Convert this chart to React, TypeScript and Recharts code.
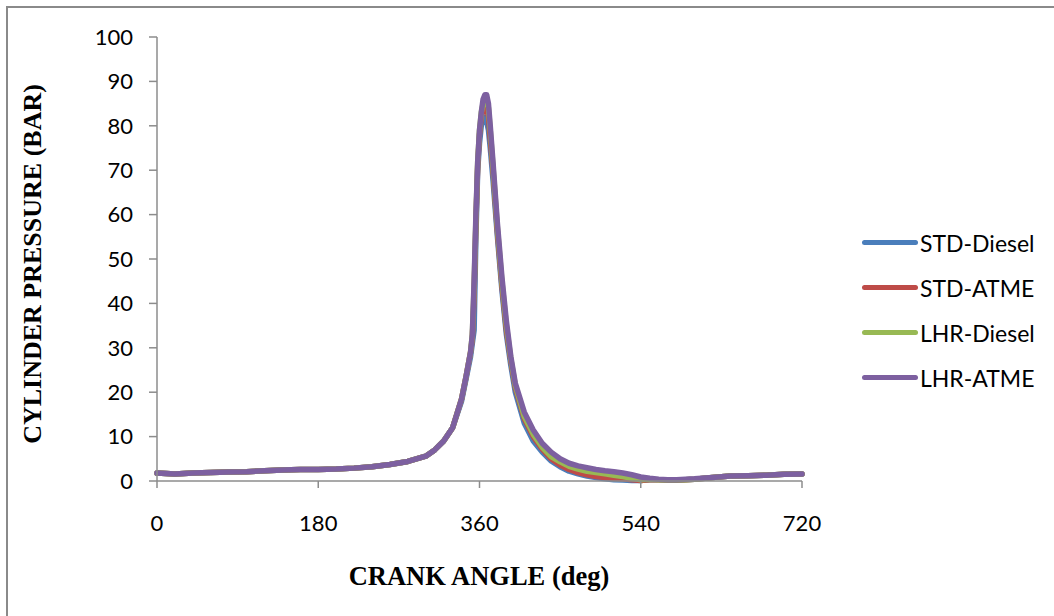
import React from "react";
import { LineChart, Line, XAxis, YAxis } from "recharts";

const angles = [0, 20, 40, 60, 80, 100, 120, 140, 160, 180, 200, 220, 240, 260, 280, 300, 310, 320, 330, 340, 345, 350, 352, 354, 356, 358, 360, 362, 364, 366, 368, 370, 372, 375, 380, 385, 390, 395, 400, 410, 420, 430, 440, 450, 460, 470, 480, 490, 500, 510, 520, 530, 540, 550, 560, 570, 580, 590, 600, 620, 640, 660, 680, 700, 720];

const stdDiesel = [1.8, 1.6, 1.8, 1.9, 2.0, 2.1, 2.3, 2.5, 2.6, 2.6, 2.7, 2.9, 3.2, 3.7, 4.4, 5.6, 7.0, 9.0, 12.0, 18.0, 23.0, 28, 31, 34, 55, 70, 76, 80, 82, 82, 81, 79, 75, 68, 55, 43, 33, 26, 20, 13, 9, 6.5, 4.5, 3.2, 2.2, 1.6, 1.1, 0.8, 0.5, 0.3, 0.2, 0.1, 0.1, 0.3, 0.3, 0.2, 0.2, 0.3, 0.4, 0.8, 1.1, 1.2, 1.3, 1.5, 1.6];
const stdAtme = [1.8, 1.6, 1.8, 1.9, 2.0, 2.1, 2.3, 2.5, 2.6, 2.6, 2.7, 2.9, 3.2, 3.7, 4.4, 5.6, 7.0, 9.0, 12.0, 18.5, 23.5, 29, 32, 42, 58, 71, 78, 82, 84, 85, 84, 82, 77, 70, 56, 44, 34, 27, 21, 14, 10, 7.2, 5.0, 3.6, 2.6, 1.9, 1.4, 1.0, 0.8, 0.6, 0.5, 0.3, 0.1, 0.3, 0.3, 0.2, 0.2, 0.3, 0.4, 0.8, 1.1, 1.2, 1.3, 1.5, 1.6];
const lhrDiesel = [1.8, 1.6, 1.8, 1.9, 2.0, 2.1, 2.3, 2.5, 2.6, 2.6, 2.7, 2.9, 3.2, 3.7, 4.4, 5.6, 7.0, 9.0, 12.0, 18.5, 23.5, 29, 33, 44, 59, 72, 79, 83, 85, 86, 86, 84, 79, 71, 57, 45, 35, 27.5, 21.5, 14.5, 10.5, 7.6, 5.5, 4.3, 3.3, 2.7, 2.2, 1.9, 1.6, 1.3, 1.0, 0.6, 0.3, 0.4, 0.3, 0.2, 0.2, 0.3, 0.4, 0.8, 1.1, 1.2, 1.3, 1.5, 1.6];
const lhrAtme = [1.8, 1.6, 1.8, 1.9, 2.0, 2.1, 2.3, 2.5, 2.6, 2.6, 2.7, 2.9, 3.2, 3.7, 4.4, 5.6, 7.0, 9.0, 12.0, 18.5, 23.5, 29, 33, 45, 60, 72, 79, 83, 86, 87, 87, 85, 80, 72, 58, 46, 36, 28, 22, 15.5, 11.5, 8.5, 6.5, 5.0, 4.0, 3.4, 3.0, 2.6, 2.3, 2.1, 1.8, 1.4, 0.9, 0.6, 0.4, 0.3, 0.3, 0.4, 0.5, 0.8, 1.1, 1.2, 1.3, 1.5, 1.6];

const seriesNames = ["STD-Diesel", "STD-ATME", "LHR-Diesel", "LHR-ATME"];
const seriesColors = ["#4A7EBB", "#BE4B48", "#98B954", "#7D60A0"];
const xTicks = [0, 180, 360, 540, 720];
const yTicks = [0, 10, 20, 30, 40, 50, 60, 70, 80, 90, 100];

const seriesValues = [stdDiesel, stdAtme, lhrDiesel, lhrAtme];
const data = angles.map((a, i) => {
  const row: Record<string, number> = { angle: a };
  seriesNames.forEach((n, k) => {
    row[n] = seriesValues[k][i];
  });
  return row;
});

const tickFont = { fontFamily: "Lato", fontSize: 22, fill: "#000" };
const axisColor = "#8c8c8c";

export default function App() {
  return (
    <div style={{ position: "absolute", left: 0, top: 0, width: 1054, height: 616, overflow: "hidden", background: "#fff" }}>
      <div style={{ position: "absolute", left: 6, top: 6, width: 1200, height: 800, border: "2px solid #8a8a8a" }} />
      <div style={{ position: "absolute", left: 0, top: 0 }}>
        <LineChart width={1054} height={616} data={data} margin={{ top: 37, left: 97, right: 252, bottom: 105 }}>
          <XAxis
            dataKey="angle"
            type="number"
            domain={[0, 720]}
            ticks={xTicks}
            tick={tickFont}
            tickSize={7}
            tickMargin={27}
            height={30}
            stroke={axisColor}
            strokeWidth={1.5}
          />
          <YAxis
            type="number"
            domain={[0, 100]}
            ticks={yTicks}
            tick={tickFont}
            tickSize={8}
            tickMargin={16}
            width={60}
            stroke={axisColor}
            strokeWidth={1.5}
            interval={0}
          />
          {seriesNames.map((n, k) => (
            <Line
              key={n}
              dataKey={n}
              type="linear"
              stroke={seriesColors[k]}
              strokeWidth={5.5}
              dot={false}
              isAnimationActive={false}
              strokeLinejoin="round"
              strokeLinecap="round"
            />
          ))}
        </LineChart>
      </div>
      <div style={{ position: "absolute", left: 862, top: 220, fontFamily: "Lato", fontSize: 23, color: "#000" }}>
        {seriesNames.map((n, k) => (
          <div key={n} style={{ display: "flex", alignItems: "center", height: 45 }}>
            <div style={{ width: 56, height: 5, borderRadius: 2.5, background: seriesColors[k], marginRight: 2 }} />
            <span>{n}</span>
          </div>
        ))}
      </div>
      <div
        style={{
          position: "absolute",
          left: 479,
          top: 576,
          transform: "translate(-50%, -50%)",
          fontFamily: "Liberation Serif",
          fontWeight: "bold",
          fontSize: 26.5,
          whiteSpace: "nowrap",
        }}
      >
        CRANK ANGLE (deg)
      </div>
      <div
        style={{
          position: "absolute",
          left: 33,
          top: 264,
          transform: "translate(-50%, -50%) rotate(-90deg)",
          fontFamily: "Liberation Serif",
          fontWeight: "bold",
          fontSize: 26,
          whiteSpace: "nowrap",
        }}
      >
        CYLINDER PRESSURE (BAR)
      </div>
    </div>
  );
}
